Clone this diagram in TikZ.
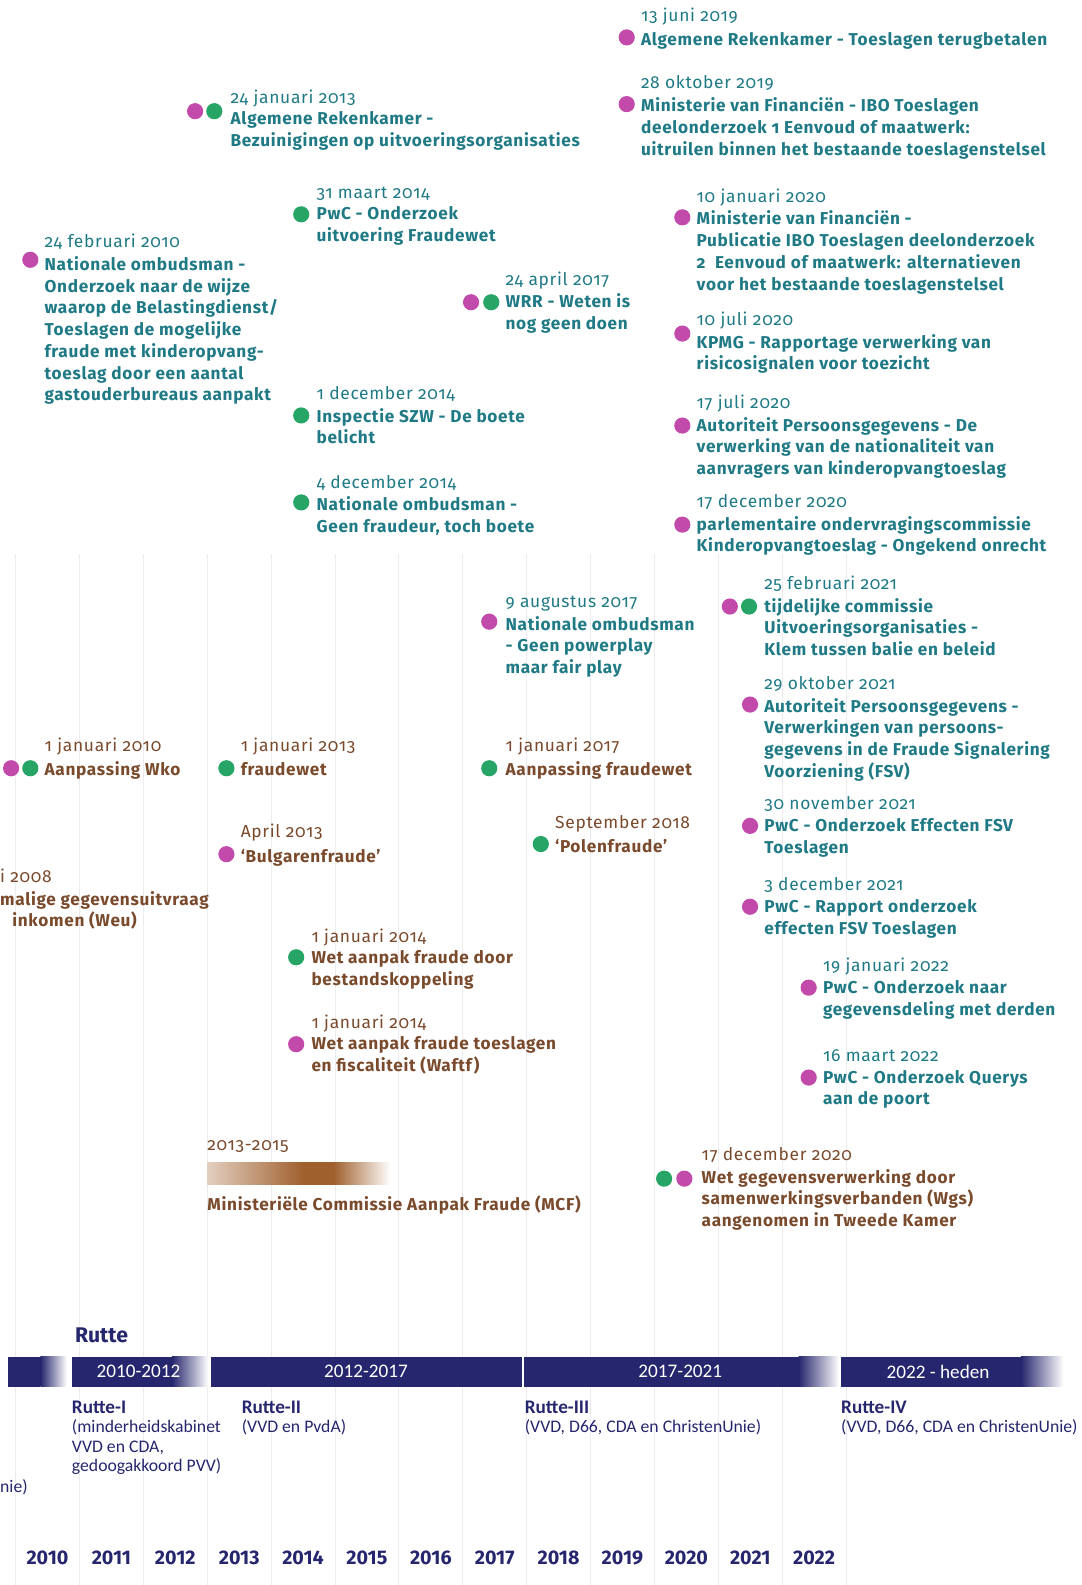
\documentclass[tikz,border=0pt]{standalone}
\usepackage{fontspec}
\setmainfont{Fira Sans}
\newfontfamily\itemfont{Fira Sans}[LetterSpace=4,Numbers=OldStyle]
\newfontfamily\barfont{Carlito}
\usetikzlibrary{positioning}
\definecolor{tealtxt}{HTML}{1F7A86}
\definecolor{browntxt}{HTML}{7A4A2C}
\definecolor{magdot}{HTML}{C24AAA}
\definecolor{greendot}{HTML}{27A566}
\definecolor{navybar}{HTML}{26266E}
\definecolor{gridgray}{HTML}{EBEBF0}
\definecolor{mcfbrown}{HTML}{A0602E}

\begin{document}
\begin{tikzpicture}[x=1pt,y=-1pt,
    mdot/.style={circle,fill=magdot,inner sep=0pt,minimum size=16pt},
    gdot/.style={circle,fill=greendot,inner sep=0pt,minimum size=16pt},
    datum/.style={anchor=base west,inner sep=0pt,text=#1,font=\itemfont\fontsize{17.2}{21.5}\selectfont},
    datum/.default=tealtxt,
    titel/.style={inner sep=0pt,align=left,text=#1,font=\itemfont\bfseries\fontsize{17}{21.5}\selectfont,
        execute at begin node=\strut},
    titel/.default=tealtxt,
    periode/.style={text=white,font=\barfont\fontsize{19}{20}\selectfont},
    kabinet/.style={anchor=north west,inner sep=0pt,align=left,text=navybar,font=\barfont\fontsize{17.5}{19}\selectfont,
        execute at begin node=\strut},
    jaar/.style={anchor=base,text=navybar,font=\fontsize{19.5}{20}\selectfont\bfseries}]
\useasboundingbox[fill=white] (0,0) rectangle (1070,1568);

% grid lines
\foreach \k in {0,...,13}
    \draw[gridgray,line width=1pt] (15.5+63.2*\k,548) -- (15.5+63.2*\k,1568);

% rapporten (teal)
\node[mdot] (m1) at (620,37) {};
\node[datum] (d1) at (634,21) {13 juni 2019};
\node[titel,below right=8.5pt and 0pt of d1.base west] (t1) {Algemene Rekenkamer - Toeslagen terugbetalen};

\node[mdot] (m2) at (620,103) {};
\node[datum] (d2) at (634,88) {28 oktober 2019};
\node[titel,below right=8.5pt and 0pt of d2.base west] (t2) {Ministerie van Financiën - IBO Toeslagen\\deelonderzoek 1 Eenvoud of maatwerk:\\uitruilen binnen het bestaande toeslagenstelsel};

\node[mdot] (m3) at (193,110) {};
\node[gdot] (g3) at (212,110) {};
\node[datum] (d3) at (228,102) {24 januari 2013};
\node[titel,below right=8.5pt and 0pt of d3.base west] (t3) {Algemene Rekenkamer -\\Bezuinigingen op uitvoeringsorganisaties};

\node[gdot] (g4) at (298,212) {};
\node[datum] (d4) at (313,196) {31 maart 2014};
\node[titel,below right=8.5pt and 0pt of d4.base west] (t4) {PwC - Onderzoek\\uitvoering Fraudewet};

\node[mdot] (m5) at (675,215) {};
\node[datum] (d5) at (689,200) {10 januari 2020};
\node[titel,below right=8.5pt and 0pt of d5.base west] (t5) {Ministerie van Financiën -\\Publicatie IBO Toeslagen deelonderzoek\\2\ \ Eenvoud of maatwerk: alternatieven\\voor het bestaande toeslagenstelsel};

\node[mdot] (m6) at (30,257) {};
\node[datum] (d6) at (44,245) {24 februari 2010};
\node[titel,below right=8.5pt and 0pt of d6.base west] (t6) {Nationale ombudsman -\\Onderzoek naar de wijze\\waarop de Belastingdienst/\\Toeslagen de mogelijke\\fraude met kinderopvang-\\toeslag door een aantal\\gastouderbureaus aanpakt};

\node[mdot] (m7) at (466,299) {};
\node[gdot] (g7) at (486,299) {};
\node[datum] (d7) at (500,282) {24 april 2017};
\node[titel,below right=8.5pt and 0pt of d7.base west] (t7) {WRR - Weten is\\nog geen doen};

\node[mdot] (m8) at (675,330) {};
\node[datum] (d8) at (689,322) {10 juli 2020};
\node[titel,below right=8.5pt and 0pt of d8.base west] (t8) {KPMG - Rapportage verwerking van\\risicosignalen voor toezicht};

\node[gdot] (g9) at (298,411) {};
\node[datum] (d9) at (313,395) {1 december 2014};
\node[titel,below right=8.5pt and 0pt of d9.base west] (t9) {Inspectie SZW - De boete\\belicht};

\node[mdot] (m10) at (675,421) {};
\node[datum] (d10) at (689,404) {17 juli 2020};
\node[titel,below right=8.5pt and 0pt of d10.base west] (t10) {Autoriteit Persoonsgegevens - De\\verwerking van de nationaliteit van\\aanvragers van kinderopvangtoeslag};

\node[gdot] (g11) at (298,497) {};
\node[datum] (d11) at (313,483) {4 december 2014};
\node[titel,below right=8.5pt and 0pt of d11.base west] (t11) {Nationale ombudsman -\\Geen fraudeur, toch boete};

\node[mdot] (m12) at (675,519) {};
\node[datum] (d12) at (689,502) {17 december 2020};
\node[titel,below right=8.5pt and 0pt of d12.base west] (t12) {parlementaire ondervragingscommissie\\Kinderopvangtoeslag - Ongekend onrecht};

\node[mdot] (m13) at (484,615) {};
\node[datum] (d13) at (500,601) {9 augustus 2017};
\node[titel,below right=8.5pt and 0pt of d13.base west] (t13) {Nationale ombudsman\\- Geen powerplay\\maar fair play};

\node[mdot] (m14) at (722,600) {};
\node[gdot] (g14) at (741,600) {};
\node[datum] (d14) at (756,583) {25 februari 2021};
\node[titel,below right=8.5pt and 0pt of d14.base west] (t14) {tijdelijke commissie\\Uitvoeringsorganisaties -\\Klem tussen balie en beleid};

\node[mdot] (m15) at (742,697) {};
\node[datum] (d15) at (756,682) {29 oktober 2021};
\node[titel,below right=8.5pt and 0pt of d15.base west] (t15) {Autoriteit Persoonsgegevens -\\Verwerkingen van persoons-\\gegevens in de Fraude Signalering\\Voorziening (FSV)};

\node[mdot] (m19) at (742,817) {};
\node[datum] (d19) at (756,801) {30 november 2021};
\node[titel,below right=8.5pt and 0pt of d19.base west] (t19) {PwC - Onderzoek Effecten FSV\\Toeslagen};

\node[mdot] (m23) at (742,897) {};
\node[datum] (d23) at (756,881) {3 december 2021};
\node[titel,below right=8.5pt and 0pt of d23.base west] (t23) {PwC - Rapport onderzoek\\effecten FSV Toeslagen};

\node[mdot] (m25) at (800,977) {};
\node[datum] (d25) at (814,961) {19 januari 2022};
\node[titel,below right=8.5pt and 0pt of d25.base west] (t25) {PwC - Onderzoek naar\\gegevensdeling met derden};

\node[mdot] (m27) at (800,1066) {};
\node[datum] (d27) at (814,1050) {16 maart 2022};
\node[titel,below right=8.5pt and 0pt of d27.base west] (t27) {PwC - Onderzoek Querys\\aan de poort};

% wetgeving en fraude (bruin)
\node[mdot] (m16) at (11,760) {};
\node[gdot] (g16) at (30,760) {};
\node[datum=browntxt] (d16) at (44,743) {1 januari 2010};
\node[titel=browntxt,below right=8.5pt and 0pt of d16.base west] (t16) {Aanpassing Wko};

\node[gdot] (g17) at (224,760) {};
\node[datum=browntxt] (d17) at (238,743) {1 januari 2013};
\node[titel=browntxt,below right=8.5pt and 0pt of d17.base west] (t17) {fraudewet};

\node[gdot] (g18) at (484,760) {};
\node[datum=browntxt] (d18) at (500,743) {1 januari 2017};
\node[titel=browntxt,below right=8.5pt and 0pt of d18.base west] (t18) {Aanpassing fraudewet};

\node[gdot] (g20) at (535,835) {};
\node[datum=browntxt] (d20) at (549,820) {September 2018};
\node[titel=browntxt,below right=8.5pt and 0pt of d20.base west] (t20) {‘Polenfraude’};

\node[mdot] (m21) at (224,845) {};
\node[datum=browntxt] (d21) at (238,829) {April 2013};
\node[titel=browntxt,below right=8.5pt and 0pt of d21.base west] (t21) {‘Bulgarenfraude’};

\node[datum=browntxt] (d22) at (0,873) {i 2008};
\node[titel=browntxt,below right=8.5pt and 0pt of d22.base west] (t22) {malige gegevensuitvraag\\\hspace*{12pt}inkomen (Weu)};

\node[gdot] (g24) at (293,947) {};
\node[datum=browntxt] (d24) at (308,932) {1 januari 2014};
\node[titel=browntxt,below right=8.5pt and 0pt of d24.base west] (t24) {Wet aanpak fraude door\\bestandskoppeling};

\node[mdot] (m26) at (293,1033) {};
\node[datum=browntxt] (d26) at (308,1017) {1 januari 2014};
\node[titel=browntxt,below right=8.5pt and 0pt of d26.base west] (t26) {Wet aanpak fraude toeslagen\\en fiscaliteit (Waftf)};

\node[datum=browntxt] (d28) at (205,1138) {2013-2015};
\shade[left color=mcfbrown!30,right color=mcfbrown] (205,1150) rectangle (300,1172);
\fill[mcfbrown] (299.5,1150) rectangle (330.5,1172);
\shade[left color=mcfbrown,right color=white] (330,1150) rectangle (386,1172);
\node[titel=browntxt,below right=44pt and 0pt of d28.base west] (t28) {Ministeriële Commissie Aanpak Fraude (MCF)};

\node[gdot] (g29) at (657,1166) {};
\node[mdot] (m29) at (677,1166) {};
\node[datum=browntxt] (d29) at (694,1148) {17 december 2020};
\node[titel=browntxt,below right=8.5pt and 0pt of d29.base west] (t29) {Wet gegevensverwerking door\\samenwerkingsverbanden (Wgs)\\aangenomen in Tweede Kamer};

% kabinetten
\node[anchor=base west,inner sep=0pt,text=navybar,font=\fontsize{21}{24}\selectfont\bfseries] (rutte) at (74,1328) {Rutte};

\fill[navybar] (8,1342) rectangle (40,1372);
\shade[left color=navybar,right color=white] (40,1342) rectangle (66,1372);
\fill[navybar] (71,1342) rectangle (170,1372);
\shade[left color=navybar,right color=white] (170,1342) rectangle (206,1372);
\fill[navybar] (209,1342) rectangle (516,1372);
\fill[navybar] (518,1342) rectangle (790,1372);
\shade[left color=navybar,right color=white] (790,1342) rectangle (830,1372);
\fill[navybar] (832,1342) rectangle (1010,1372);
\shade[left color=navybar,right color=white] (1010,1342) rectangle (1052,1372);

\node[periode] (p1) at (137,1357) {2010-2012};
\node[periode] (p2) at (362,1357) {2012-2017};
\node[periode] (p3) at (673,1357) {2017-2021};
\node[periode] (p4) at (928,1357) {2022 - heden};

\node[kabinet] (k1) at (71,1386) {\textbf{\fontsize{19}{19}\selectfont Rutte-I}\\(minderheidskabinet\\VVD en CDA,\\gedoogakkoord PVV)};
\node[kabinet] (k2) at (239,1386) {\textbf{\fontsize{19}{19}\selectfont Rutte-II}\\(VVD en PvdA)};
\node[kabinet] (k3) at (519,1386) {\textbf{\fontsize{19}{19}\selectfont Rutte-III}\\(VVD, D66, CDA en ChristenUnie)};
\node[kabinet] (k4) at (832,1386) {\textbf{\fontsize{19}{19}\selectfont Rutte-IV}\\(VVD, D66, CDA en ChristenUnie)};
\node[kabinet] (k0) at (0,1463) {nie)};

% jaren
\foreach \j [count=\i from 0] in {2010,...,2022}
    \node[jaar] (j\j) at (47+63.2*\i,1548) {\j};
\end{tikzpicture}
\end{document}
